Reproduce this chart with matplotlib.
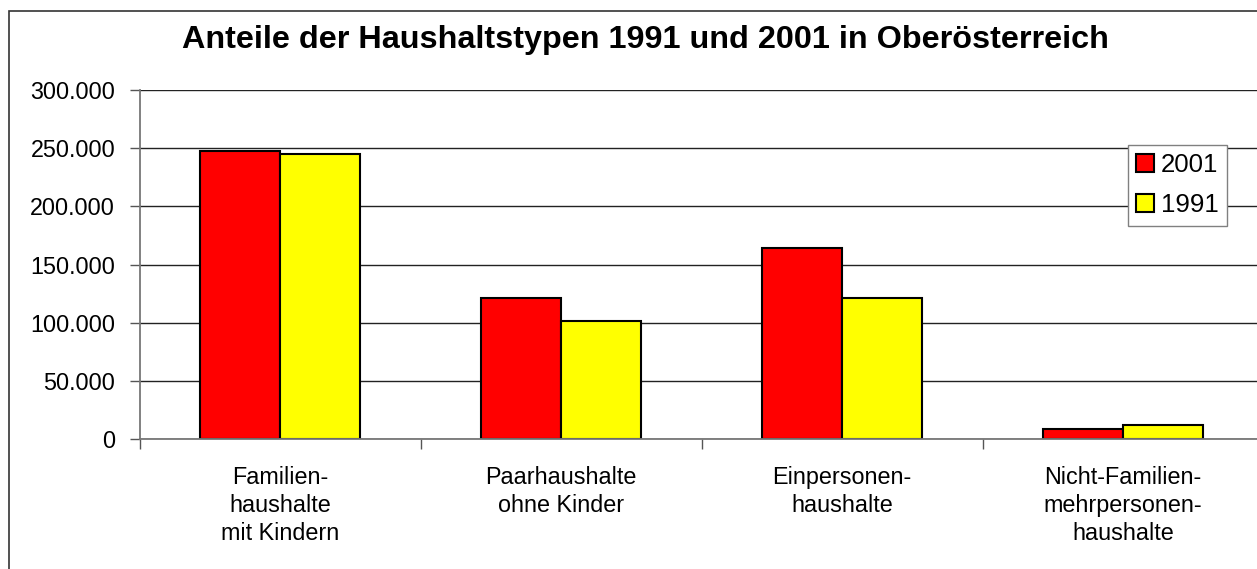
import matplotlib
matplotlib.use("Agg")
import matplotlib.pyplot as plt
from matplotlib.patches import Rectangle
from matplotlib.ticker import FixedLocator, FuncFormatter

plt.rcParams['font.family'] = ['Liberation Sans', 'DejaVu Sans']

categories = ["Familien-\nhaushalte\nmit Kindern", "Paarhaushalte\nohne Kinder",
              "Einpersonen-\nhaushalte", "Nicht-Familien-\nmehrpersonen-\nhaushalte"]
series_names = ["2001", "1991"]
values_2001 = [248000, 121000, 164000, 8500]
values_1991 = [245000, 102000, 121500, 12000]
y_ticks = [0, 50000, 100000, 150000, 200000, 250000, 300000]
title = "Anteile der Haushaltstypen 1991 und 2001 in Oberösterreich"

W, H = 1257, 569
fig = plt.figure(figsize=(W / 100, H / 100), dpi=100)

def fx(px):
    return px / W

def fy(py):
    return (H - py) / H

left, right, top, bottom = 139.5, 1263.5, 90.0, 439.3
ax = fig.add_axes([fx(left), fy(bottom), fx(right) - fx(left), fy(top) - fy(bottom)])

x = list(range(len(categories)))
bw = 0.285
ax.bar([i - bw / 2 for i in x], values_2001, width=bw, color="#ff0000",
       edgecolor="black", linewidth=1.5, label=series_names[0], zorder=3)
ax.bar([i + bw / 2 for i in x], values_1991, width=bw, color="#ffff00",
       edgecolor="black", linewidth=1.5, label=series_names[1], zorder=3)

ax.set_xlim(-0.5, len(categories) - 0.5)
ax.set_ylim(0, 300000)
ax.yaxis.set_major_locator(FixedLocator(y_ticks))
ax.yaxis.set_major_formatter(FuncFormatter(lambda v, p: f"{int(v):,}".replace(",", ".")))
ax.set_xticks(x)
ax.set_xticklabels(categories, fontsize=16.8, linespacing=1.3)
ax.set_xticks([i - 0.5 for i in range(len(categories) + 1)], minor=True)
ax.tick_params(axis='x', which='major', length=0, pad=19)
ax.tick_params(axis='x', which='minor', length=7, width=1, color='#555555', direction='out')
ax.tick_params(axis='y', length=7, width=1, color='#555555', direction='out', labelsize=16.8, pad=10.5)

ax.grid(axis='y', color='#222222', linewidth=1.0, zorder=0)
ax.set_axisbelow(True)
for s in ['top', 'right']:
    ax.spines[s].set_visible(False)
for s in ['left', 'bottom']:
    ax.spines[s].set_color('#777777')
    ax.spines[s].set_linewidth(1.3)
    ax.spines[s].set_zorder(4)

leg = ax.legend(loc='upper left', bbox_to_anchor=(fx(1128), fy(145)),
                bbox_transform=fig.transFigure, fontsize=18.6, frameon=True,
                fancybox=False, edgecolor='#808080', framealpha=1,
                handlelength=0.7, handleheight=0.7, handletextpad=0.25,
                borderpad=0.32, labelspacing=0.62, borderaxespad=0)
leg.get_frame().set_linewidth(1.0)
leg.set_zorder(5)

fig.text(fx(645), fy(48.3), title, fontsize=23.3, fontweight='bold',
         ha='center', va='baseline')

fig.patches.append(Rectangle((fx(9), fy(H + 20)), 1.5, fy(11) - fy(H + 20),
                             transform=fig.transFigure, fill=False,
                             edgecolor='#333333', linewidth=1.2))

fig.savefig("out.png", dpi=100)
